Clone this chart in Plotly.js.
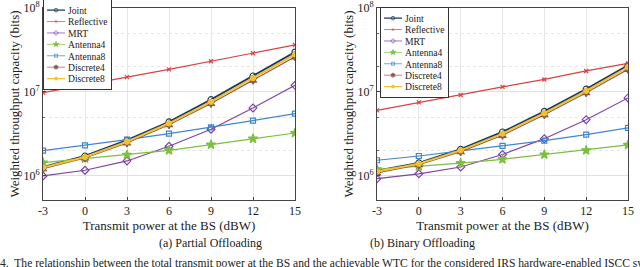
<!DOCTYPE html>
<html>
<head>
<meta charset="utf-8">
<script src="https://cdn.plot.ly/plotly-3.0.1.min.js"></script>
<style>
  html, body { margin: 0; padding: 0; background: #fff; }
  #chart { width: 640px; height: 267px; }
</style>
</head>
<body>
<div id="chart"></div>
<script>
// transmit power at the BS (dBW)
const power = [-3, 0, 3, 6, 9, 12, 15];
const yTicks = [1e6, 1e7, 1e8];
const yTickText = ["10<sup>6</sup>", "10<sup>7</sup>", "10<sup>8</sup>"];

// (a) partial offloading
const partJoint      = [1.28e6, 1.73e6, 2.66e6, 4.4e6, 8.1e6, 1.55e7, 2.99e7];
const partReflective = [9.8e6, 1.2e7, 1.5e7, 1.86e7, 2.32e7, 2.89e7, 3.63e7];
const partMRT        = [1.0e6, 1.17e6, 1.51e6, 2.26e6, 3.6e6, 6.46e6, 1.2e7];
const partAntenna4   = [1.44e6, 1.61e6, 1.79e6, 2.02e6, 2.36e6, 2.78e6, 3.25e6];
const partAntenna8   = [2.0e6, 2.32e6, 2.71e6, 3.19e6, 3.8e6, 4.56e6, 5.52e6];
const partDiscrete4  = [1.22e6, 1.64e6, 2.47e6, 4.08e6, 7.3e6, 1.38e7, 2.62e7];
const partDiscrete8  = [1.26e6, 1.68e6, 2.56e6, 4.24e6, 7.66e6, 1.47e7, 2.8e7];

// (b) binary offloading
const binJoint      = [1.15e6, 1.43e6, 2.08e6, 3.34e6, 5.89e6, 1.08e7, 2.07e7];
const binReflective = [6.05e6, 7.53e6, 9.2e6, 1.15e7, 1.41e7, 1.78e7, 2.19e7];
const binMRT        = [9.3e5, 1.06e6, 1.28e6, 1.8e6, 2.78e6, 4.68e6, 8.5e6];
const binAntenna4   = [1.2e6, 1.3e6, 1.42e6, 1.58e6, 1.8e6, 2.02e6, 2.34e6];
const binAntenna8   = [1.54e6, 1.73e6, 1.99e6, 2.28e6, 2.63e6, 3.1e6, 3.73e6];
const binDiscrete4  = [1.09e6, 1.36e6, 1.95e6, 3.05e6, 5.37e6, 9.8e6, 1.86e7];
const binDiscrete8  = [1.13e6, 1.4e6, 2.02e6, 3.19e6, 5.6e6, 1.03e7, 1.98e7];

const names = ["Joint", "Reflective", "MRT", "Antenna4", "Antenna8", "Discrete4", "Discrete8"];
const styles = [
  { color: "#1d3a5a", width: 2, symbol: "circle-open", size: 6 },
  { color: "#d9423f", width: 1.2, symbol: "x-thin-open", size: 4 },
  { color: "#7e44a8", width: 1.2, symbol: "diamond-open", size: 6 },
  { color: "#7cbf3f", width: 1.2, symbol: "star", size: 7 },
  { color: "#3f86cf", width: 1.2, symbol: "square-open", size: 5 },
  { color: "#8c5a55", width: 1.2, symbol: "hexagram", size: 6 },
  { color: "#f2c12e", width: 2, symbol: "circle", size: 5 },
];

const part = [partJoint, partReflective, partMRT, partAntenna4, partAntenna8, partDiscrete4, partDiscrete8];
const bin = [binJoint, binReflective, binMRT, binAntenna4, binAntenna8, binDiscrete4, binDiscrete8];

function makeTraces(series, xa, ya, legend) {
  return series.map((y, i) => ({
    x: power,
    y,
    xaxis: xa,
    yaxis: ya,
    legend,
    name: names[i],
    mode: "lines+markers",
    line: { color: styles[i].color, width: styles[i].width },
    marker: { symbol: styles[i].symbol, size: styles[i].size, color: styles[i].color, line: { color: styles[i].color, width: 1.2 } },
  }));
}

const traces = [...makeTraces(part, "x", "y", "legend"), ...makeTraces(bin, "x2", "y2", "legend2")];

const font = { family: '"Liberation Serif", serif', color: "#222" };

const xAxis = (domain) => ({
  domain,
  range: [-3, 15],
  tickvals: power,
  ticktext: power.map(String),
  ticks: "inside",
  ticklen: 3,
  tickcolor: "#444",
  showline: true,
  linecolor: "#444",
  linewidth: 1,
  mirror: true,
  showgrid: true,
  gridcolor: "#e6e6e6",
  zeroline: false,
  tickfont: { ...font, size: 12 },
  title: { text: "Transmit power at the BS (dBW)", font: { ...font, size: 13 }, standoff: 2 },
});

const yAxis = (anchor) => ({
  anchor,
  domain: [1 - 200 / 267, 1 - 8 / 267],
  type: "log",
  range: [5.714, 8],
  tickmode: "array",
  tickvals: yTicks,
  ticktext: yTickText,
  ticks: "inside",
  ticklen: 3,
  tickcolor: "#444",
  showline: true,
  linecolor: "#444",
  linewidth: 1,
  mirror: true,
  showgrid: true,
  gridcolor: "#e0e0e0",
  minor: { dtick: "D2", showgrid: true, gridcolor: "#e6e6e6", griddash: "dot", ticks: "inside", ticklen: 2, tickcolor: "#666" },
  zeroline: false,
  tickfont: { ...font, size: 12 },
  title: { text: "Weighted throughput capacity (bits)", font: { ...font, size: 13 }, standoff: 0 },
});

const legendBase = {
  bgcolor: "#fff",
  bordercolor: "#333",
  borderwidth: 1.7,
  font: { ...font, size: 16 },
  itemwidth: 30,
  tracegroupgap: 0,
  xanchor: "left",
  yanchor: "top",
  xref: "paper",
  yref: "paper",
  x: 0.1,
  y: 1,
};

const layout = {
  width: 640,
  height: 267,
  margin: { l: 0, r: 0, t: 0, b: 0 },
  paper_bgcolor: "#fff",
  plot_bgcolor: "#fff",
  font,
  showlegend: true,
  xaxis: { ...xAxis([43 / 640, 295 / 640]), anchor: "y" },
  yaxis: yAxis("x"),
  xaxis2: { ...xAxis([377 / 640, 628 / 640]), anchor: "y2" },
  yaxis2: yAxis("x2"),
  legend: { ...legendBase },
  legend2: { ...legendBase, x: 0.6 },
  annotations: [
    { text: "(a) Partial Offloading", x: 157 / 640, y: 1 - 243 / 267, xref: "paper", yref: "paper", yanchor: "middle", showarrow: false, font: { ...font, size: 12 } },
    { text: "(b) Binary Offloading", x: 477 / 640, y: 1 - 243 / 267, xref: "paper", yref: "paper", yanchor: "middle", showarrow: false, font: { ...font, size: 12 } },
    {
      text: "4.  The relationship between the total transmit power at the BS and the achievable WTC for the considered IRS hardware-enabled ISCC system",
      x: -2 / 640, y: 1 - 263 / 267, xref: "paper", yref: "paper", xanchor: "left", yanchor: "middle", showarrow: false, font: { ...font, size: 11.6 },
    },
  ],
};

function parseTranslate(el) {
  const m = /translate\(\s*([-\d.]+)[ ,]+([-\d.]+)/.exec(el.getAttribute("transform") || "");
  return m ? [+m[1], +m[2]] : [0, 0];
}

Plotly.newPlot("chart", traces, layout, { displayModeBar: false, staticPlot: true }).then((gd) => {
  // compact legend boxes like the figure: tighter rows, then scale down
  const scale = 0.6;
  const step = 19;
  const place = { legend: [43, -1], legend2: [380, 7] };
  Object.entries(place).forEach(([cls, [tx, ty]]) => {
    const g = gd.querySelector("g." + cls);
    if (!g) return;
    const items = g.querySelectorAll("g.traces");
    if (items.length > 1) {
      const [fx, fy] = parseTranslate(items[0]);
      const oldStep = parseTranslate(items[1])[1] - fy;
      items.forEach((it, i) => it.setAttribute("transform", `translate(${fx},${fy + i * step})`));
      const bg = g.querySelector("rect.bg");
      if (bg) bg.setAttribute("height", +bg.getAttribute("height") - (oldStep - step) * (items.length - 1));
    }
    g.setAttribute("transform", `translate(${tx},${ty}) scale(${scale})`);
  });
});
</script>
</body>
</html>
